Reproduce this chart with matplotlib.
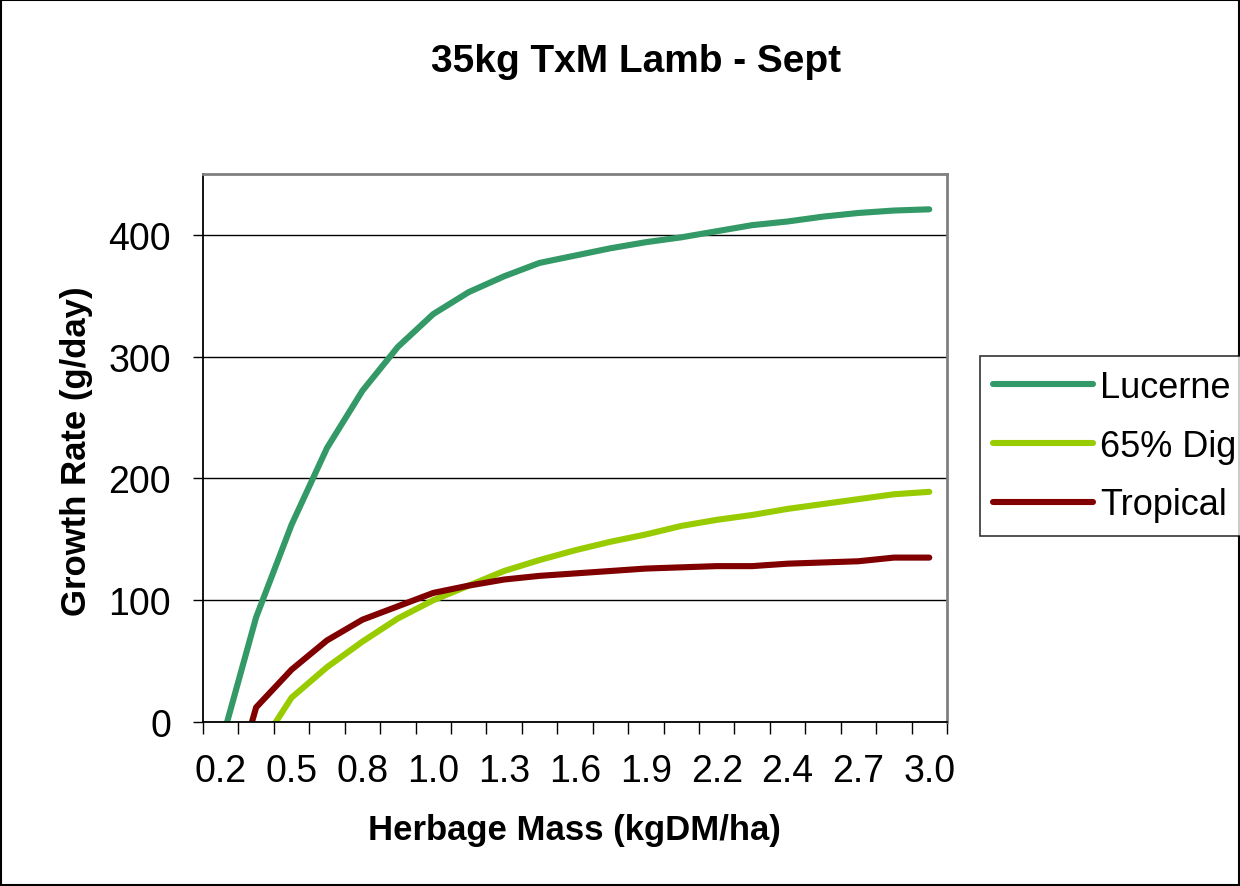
import numpy as np
import matplotlib.pyplot as plt
from matplotlib.patches import Rectangle

plt.rcParams['font.family'] = ['Liberation Sans', 'DejaVu Sans']

# herbage mass categories (21 of them, every second one labelled)
tick_labels = ['0.2', '0.5', '0.8', '1.0', '1.3', '1.6', '1.9', '2.2', '2.4', '2.7', '3.0']

# growth rate (g/day) per category
lucerne = [-19, 86, 162, 225, 272, 308, 335, 353, 366, 377, 383,
           389, 394, 398, 403, 408, 411, 415, 418, 420, 421]
dig65 = [-70, -25, 20, 45, 66, 85, 100, 112, 124, 133, 141,
         148, 154, 161, 166, 170, 175, 179, 183, 187, 189]
tropical = [-90, 12, 43, 67, 84, 95, 106, 112, 117, 120, 122,
            124, 126, 127, 128, 128, 130, 131, 132, 135, 135]

series = [('Lucerne', lucerne, '#339966'),
          ('65% Dig', dig65, '#99cc00'),
          ('Tropical', tropical, '#800000')]

fig = plt.figure(figsize=(12.4, 8.87), dpi=100)
ax = fig.add_axes([0.1637, 0.1849, 0.6, 0.6178])

x = np.arange(len(lucerne)) + 0.5
for name, vals, col in series:
    ax.plot(x, vals, color=col, lw=4.4, label=name, solid_capstyle='round', solid_joinstyle='round')

ax.set_xlim(0, len(lucerne))
ax.set_ylim(0, 450)
ax.set_yticks([0, 100, 200, 300, 400])
ax.tick_params(axis='y', labelsize=27, length=7, width=1, pad=16, direction='out')

# tick marks between categories, labels on every other category
ax.set_xticks(np.arange(0, len(lucerne) + 1))
ax.set_xticklabels([])
ax.tick_params(axis='x', which='major', length=8.6, width=1, direction='out')
ax.set_xticks(np.arange(0, len(lucerne), 2) + 0.5, minor=True)
ax.set_xticklabels(tick_labels, minor=True)
ax.tick_params(axis='x', which='minor', length=0, labelsize=27, pad=22)

ax.yaxis.grid(True, color='black', lw=1)
ax.set_axisbelow(True)
for s in ['left', 'bottom']:
    ax.spines[s].set_color('black')
    ax.spines[s].set_linewidth(1.3)
for s in ['top', 'right']:
    ax.spines[s].set_color('#808080')
    ax.spines[s].set_linewidth(2)

fig.text(0.513, 0.930, '35kg TxM Lamb - Sept', ha='center', va='center',
         fontsize=28, fontweight='bold')
fig.text(0.463, 0.064, 'Herbage Mass (kgDM/ha)', ha='center', va='center',
         fontsize=25, fontweight='bold')
fig.text(0.0613, 0.4915, 'Growth Rate (g/day)', ha='center', va='center',
         rotation=90, fontsize=25, fontweight='bold')

leg = fig.legend(loc='upper left', bbox_to_anchor=(0.790, 0.5975), borderaxespad=0,
                 fontsize=26, handlelength=2.75, handletextpad=0.2, borderpad=0.38,
                 labelspacing=0.66, fancybox=False, frameon=True)
leg.get_frame().set_edgecolor('black')
leg.get_frame().set_linewidth(1.2)

fig.add_artist(Rectangle((0.001, 0.001), 0.998, 0.998, transform=fig.transFigure,
                         fill=False, edgecolor='black', lw=1.5))

plt.savefig('out.png', dpi=100)
